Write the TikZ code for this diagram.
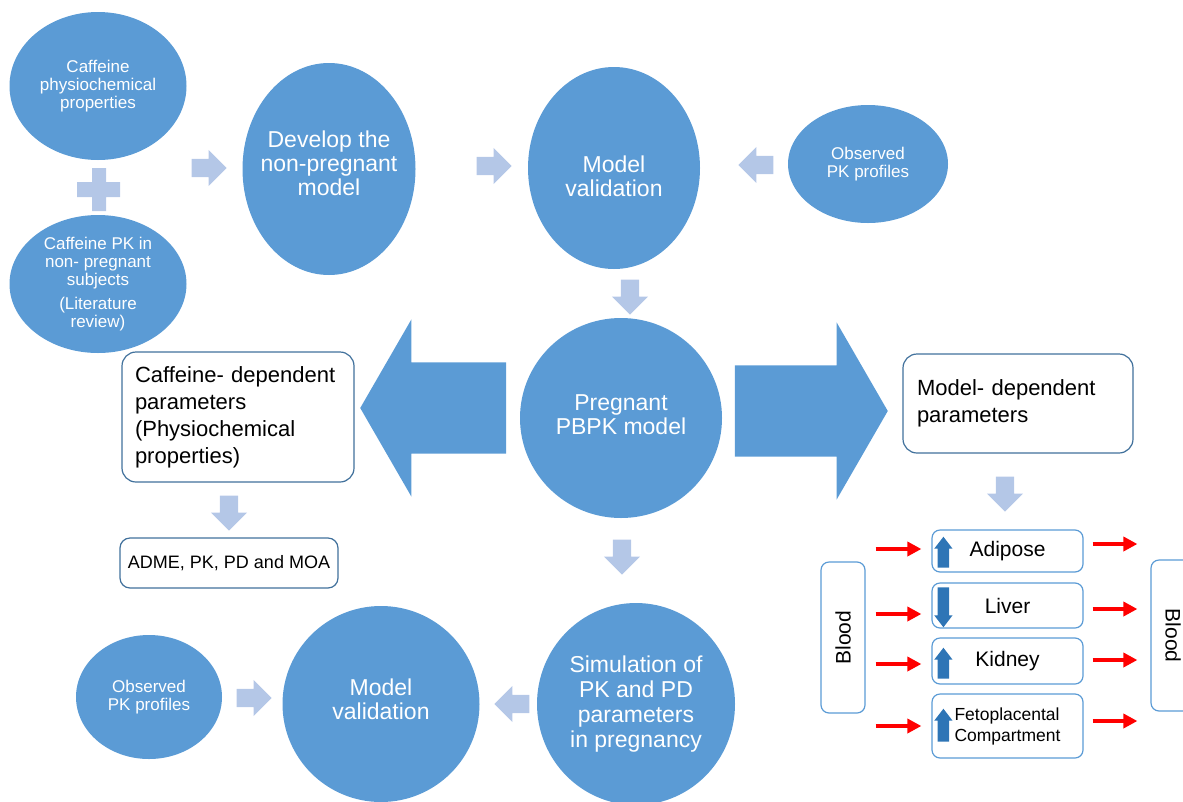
\documentclass[tikz,border=0pt]{standalone}
\usepackage{fontspec}
\setmainfont{Liberation Sans}
\usetikzlibrary{calc, shapes.geometric, shapes.arrows, arrows.meta}

\begin{document}
\begin{tikzpicture}[x=1pt, y=-1pt,
    bubble/.style={ellipse, fill=bubbleColour, inner sep=0pt},
    bubbleText/.style={text=white, align=center},
    stepArrow/.style={single arrow, anchor=tip, fill=arrowColour, inner sep=9pt, minimum height=35pt, single arrow head extend=9pt, single arrow tip angle=90},
    bigArrow/.style={single arrow, anchor=tip, fill=bubbleColour, inner sep=45.5pt, single arrow head extend=43pt, single arrow tip angle=120},
    paramBox/.style={draw=borderColour, line width=1.2pt, rounded corners=14pt, fill=white, align=left},
    organBox/.style={draw=organColour, line width=1.2pt, rounded corners=8pt, minimum width=151pt, font=\fontsize{21}{24}\selectfont},
    levelArrow/.style={single arrow, anchor=tip, fill=levelColour, inner sep=5.5pt, single arrow head extend=3.5pt, single arrow tip angle=75},
    flow/.style={red, line width=4.5pt, -{Triangle[length=14pt, width=14pt]}}
]
    \definecolor{bubbleColour}{HTML}{5B9BD5}
    \definecolor{arrowColour}{HTML}{B4C7E7}
    \definecolor{borderColour}{HTML}{41719C}
    \definecolor{organColour}{HTML}{5B9BD5}
    \definecolor{levelColour}{HTML}{2E75B6}

    \useasboundingbox (0,0) rectangle (1183,801);

    % Inputs of the non-pregnant model
    \node[bubble, minimum width=177pt, minimum height=148pt,
        label={[bubbleText, font=\fontsize{17}{18}\selectfont]center:{Caffeine\\physiochemical\\properties}}] (cafProps) at (98,86) {};
    \node[bubble, minimum width=177pt, minimum height=138pt,
        label={[bubbleText, font=\fontsize{17}{18}\selectfont]center:{Caffeine PK in\\non- pregnant\\subjects\\[6pt](Literature\\review)}}] (cafPK) at (98,284) {};
    \fill[arrowColour] (77,182) rectangle (120,197) (92,168) rectangle (106,211);

    % Top row
    \node[bubble, minimum width=173pt, minimum height=212pt,
        label={[bubbleText, font=\fontsize{23}{24}\selectfont, yshift=6pt]center:{Develop the\\non-pregnant\\model}}] (develop) at (329,169) {};
    \node[bubble, minimum width=172pt, minimum height=202pt,
        label={[bubbleText, font=\fontsize{23}{24}\selectfont, yshift=-8pt]center:{Model\\validation}}] (validTop) at (614,168) {};
    \node[bubble, minimum width=160pt, minimum height=118pt,
        label={[bubbleText, font=\fontsize{17}{18}\selectfont]center:{Observed\\PK profiles}}] (obsTop) at (868,164) {};

    % Pregnant model in the middle
    \node[bubble, minimum width=202pt, minimum height=200pt,
        label={[bubbleText, font=\fontsize{23}{24}\selectfont, yshift=3pt]center:{Pregnant\\PBPK model}}] (pregnant) at (621,418) {};

    % Bottom row
    \node[bubble, minimum width=198pt, minimum height=202pt,
        label={[bubbleText, font=\fontsize{23}{25}\selectfont]center:{Simulation of\\PK and PD\\parameters\\in pregnancy}}] (simul) at (636,704) {};
    \node[bubble, minimum width=197pt, minimum height=196pt,
        label={[bubbleText, font=\fontsize{23}{24}\selectfont, yshift=5pt]center:{Model\\validation}}] (validBot) at (381,704) {};
    \node[bubble, minimum width=146pt, minimum height=124pt,
        label={[bubbleText, font=\fontsize{17}{18}\selectfont]center:{Observed\\PK profiles}}] (obsBot) at (149,697) {};

    % Small step arrows (placed by their tips)
    \node[stepArrow] (step1) at (227,168) {};
    \node[stepArrow] (step2) at (512,166) {};
    \node[stepArrow, shape border rotate=180] (step3) at (738,165) {};
    \node[stepArrow, shape border rotate=270] (step4) at (630,315) {};
    \node[stepArrow, shape border rotate=270] (step5) at (229,531) {};
    \node[stepArrow, shape border rotate=270] (step6) at (1005,512) {};
    \node[stepArrow, shape border rotate=270] (step7) at (622,575) {};
    \node[stepArrow, shape border rotate=180] (step8) at (494,704) {};
    \node[stepArrow] (step9) at (272,698) {};

    % Big arrows out of the pregnant model
    \node[bigArrow, minimum height=146pt, shape border rotate=180] (toCaffeine) at (360,408) {};
    \node[bigArrow, minimum height=153pt] (toModel) at (888,411) {};

    % Parameter boxes
    \node[paramBox, text width=206pt, inner xsep=13pt, minimum height=130pt, font=\fontsize{22}{27}\selectfont] (cafParams) at (238,417) {Caffeine- dependent\\parameters\\(Physiochemical\\properties)};
    \node[paramBox, text width=202pt, inner xsep=14pt, minimum height=99pt, font=\fontsize{22}{27}\selectfont] (modelParams) at (1018,403.5) {Model- dependent\\parameters};
    \node[paramBox, rounded corners=10pt, minimum width=218pt, minimum height=50pt, font=\fontsize{18}{22}\selectfont] (adme) at (229,563) {ADME, PK, PD and MOA};

    % Organs between the blood pools
    \node[organBox, minimum height=42pt] (adipose) at (1007.5,551) {Adipose};
    \node[organBox, minimum height=45pt] (liver) at (1007.5,605.5) {Liver};
    \node[organBox, minimum height=46pt] (kidney) at (1007.5,661) {Kidney};
    \node[organBox, minimum height=64pt, align=left, font=\fontsize{17.5}{21}\selectfont] (feto) at (1007.5,726) {Fetoplacental\\Compartment};
    \node[organBox, minimum width=44pt, minimum height=151pt] (bloodL) at (843,637.5) {\rotatebox{90}{Blood}};
    \node[organBox, minimum width=44pt, minimum height=151pt] (bloodR) at (1173,635.5) {\rotatebox{-90}{Blood}};

    % Up and down changes
    \node[levelArrow, minimum height=31pt, shape border rotate=90] at ($(adipose.north west)+(12,7)$) {};
    \node[levelArrow, minimum height=40pt, shape border rotate=270] at ($(liver.south west)+(12,-1)$) {};
    \node[levelArrow, minimum height=31pt, shape border rotate=90] at ($(kidney.north west)+(12,10)$) {};
    \node[levelArrow, minimum height=33pt, shape border rotate=90] at ($(feto.north west)+(12,15)$) {};

    % Red flow arrows
    \foreach \organ/\dl/\dr in {adipose/-2/-7, liver/8.5/3.5, kidney/3/-1, feto/0/-5} {
        \draw[flow] ($(bloodL.east |- \organ.west)+(10,\dl)$) -- ($(\organ.west)+(-10,\dl)$);
        \draw[flow] ($(\organ.east)+(9,\dr)$) -- ($(bloodR.west |- \organ.east)+(-13,\dr)$);
    }

\end{tikzpicture}
\end{document}
